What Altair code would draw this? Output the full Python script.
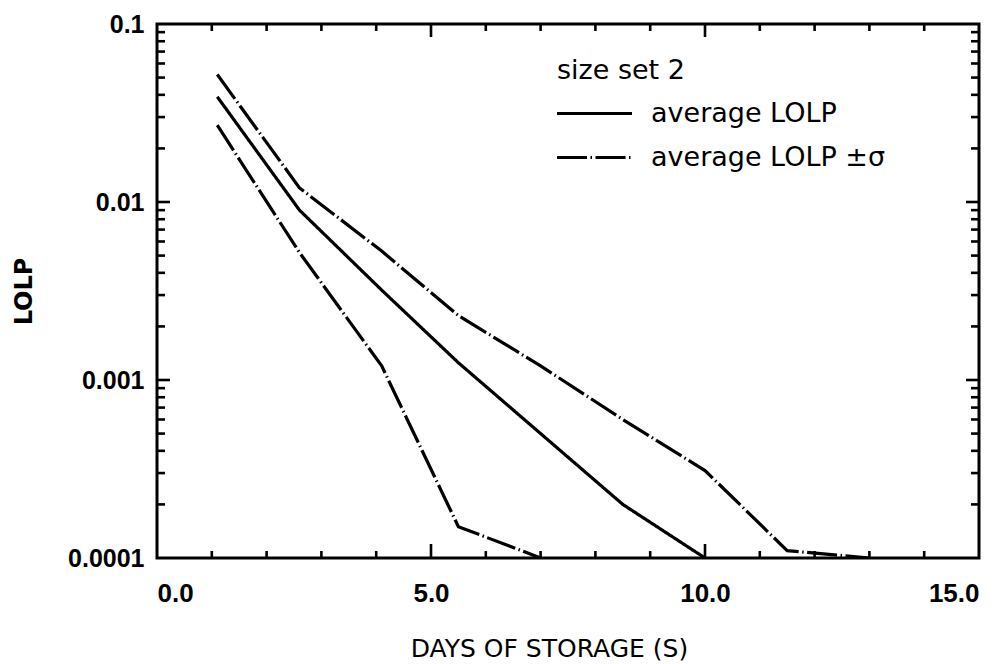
import altair as alt
import pandas as pd

# ---- data ----
days_avg = [1.1, 2.6, 4.1, 5.5, 7.0, 8.5, 10.0]
lolp_avg = [0.039, 0.009, 0.0032, 0.00125, 0.0005, 0.0002, 0.0001]

days_upper = [1.1, 2.6, 4.1, 5.5, 7.0, 8.5, 10.0, 11.5, 13.0]
lolp_upper = [0.052, 0.012, 0.0053, 0.0023, 0.0012, 0.0006, 0.00031, 0.00011, 0.0001]

days_lower = [1.1, 2.6, 4.1, 5.5, 7.0]
lolp_lower = [0.027, 0.0052, 0.0012, 0.00015, 0.0001]

series_labels = ["average LOLP", "average LOLP \u00b1\u03c3"]
legend_title = "size set 2"
x_title = "DAYS OF STORAGE (S)"
y_title = "LOLP"
x_label_values = [0, 5, 10, 15]
y_label_values = [0.1, 0.01, 0.001, 0.0001]
x_minor_ticks = [1, 2, 3, 4, 6, 7, 8, 9, 11, 12, 13, 14]
x_major_ticks = [5, 10]
y_major_ticks = [0.001, 0.01]
y_minor_ticks = [k * d for d in [0.0001, 0.001, 0.01] for k in range(2, 10)]

W, H = 822, 534
FONT = "Liberation Sans"
LFONT = "DejaVu Sans"

rows = []
for d, v in zip(days_upper, lolp_upper):
    rows.append({"day": d, "lolp": v, "series": "upper", "kind": series_labels[1]})
for d, v in zip(days_avg, lolp_avg):
    rows.append({"day": d, "lolp": v, "series": "avg", "kind": series_labels[0]})
for d, v in zip(days_lower, lolp_lower):
    rows.append({"day": d, "lolp": v, "series": "lower", "kind": series_labels[1]})
df = pd.DataFrame(rows)

xscale = alt.Scale(domain=[0, 15], nice=False, zero=False)
yscale = alt.Scale(type="log", domain=[0.0001, 0.1], nice=False)

lines = alt.Chart(df).mark_line(clip=True, strokeWidth=3.2, color="black").encode(
    x=alt.X("day:Q", scale=xscale, title=x_title,
            axis=alt.Axis(values=x_label_values, format=".1f", ticks=False, domain=False,
                          grid=False, labelFont=FONT, labelFontWeight="bold",
                          labelFontSize=26, labelColor="black", labelPadding=22,
                          titleFont=LFONT, titleFontWeight="normal", titleFontSize=25,
                          titleColor="black", titleX=392, titleY=90,
                          titleBaseline="middle", titleAlign="center")),
    y=alt.Y("lolp:Q", scale=yscale, title=y_title,
            axis=alt.Axis(values=y_label_values, format="~g", ticks=False, domain=False,
                          grid=False, labelFont=FONT, labelFontWeight="bold",
                          labelFontSize=25, labelColor="black", labelPadding=13,
                          titleFont=LFONT, titleFontWeight="bold", titleFontSize=24,
                          titleColor="black", titleX=-133, titleY=267, titleAngle=270,
                          titleBaseline="middle", titleAlign="center")),
    strokeDash=alt.StrokeDash(
        "kind:N",
        scale=alt.Scale(domain=series_labels, range=[[1, 0], [30, 3.5, 1.5, 3.5]]),
        legend=alt.Legend(title=legend_title, orient="none", legendX=400, legendY=34,
                          symbolType="M-1,0H9", symbolSize=225, symbolStrokeWidth=3,
                          symbolStrokeColor="black", symbolFillColor="transparent",
                          symbolOffset=-6,
                          labelFont=LFONT, labelFontSize=27,
                          labelColor="black", labelOffset=73, labelLimit=500,
                          titleFont=LFONT, titleFontSize=27, titleFontWeight="normal",
                          titleColor="black", titlePadding=15, rowPadding=16, padding=0)),
    detail="series:N",
)

def yticks(vals, x0, x1):
    return alt.Chart(pd.DataFrame({"lolp": vals})).mark_rule(color="black", strokeWidth=2.6).encode(
        y=alt.Y("lolp:Q", scale=yscale), x=alt.value(x0), x2=alt.value(x1))

def xticks(vals, y0, y1):
    return alt.Chart(pd.DataFrame({"day": vals})).mark_rule(color="black", strokeWidth=2.6).encode(
        x=alt.X("day:Q", scale=xscale), y=alt.value(y0), y2=alt.value(y1))

chart = alt.layer(
    yticks(y_minor_ticks, 0, 8),
    yticks(y_major_ticks, 0, 13),
    yticks(y_minor_ticks, W, W - 8),
    yticks(y_major_ticks, W, W - 13),
    xticks(x_minor_ticks, H, H - 7),
    xticks(x_major_ticks, H, H - 14),
    xticks(x_minor_ticks, 0, 7),
    xticks(x_major_ticks, 0, 13),
    lines,
).properties(
    width=W, height=H,
    padding={"left": 149, "top": 16, "right": 18, "bottom": 106},
    autosize=alt.AutoSizeParams(type="none"),
    background="white",
).configure_view(stroke="black", strokeWidth=3)

chart.save("out.html", embed_options={"renderer": "svg", "actions": False})
